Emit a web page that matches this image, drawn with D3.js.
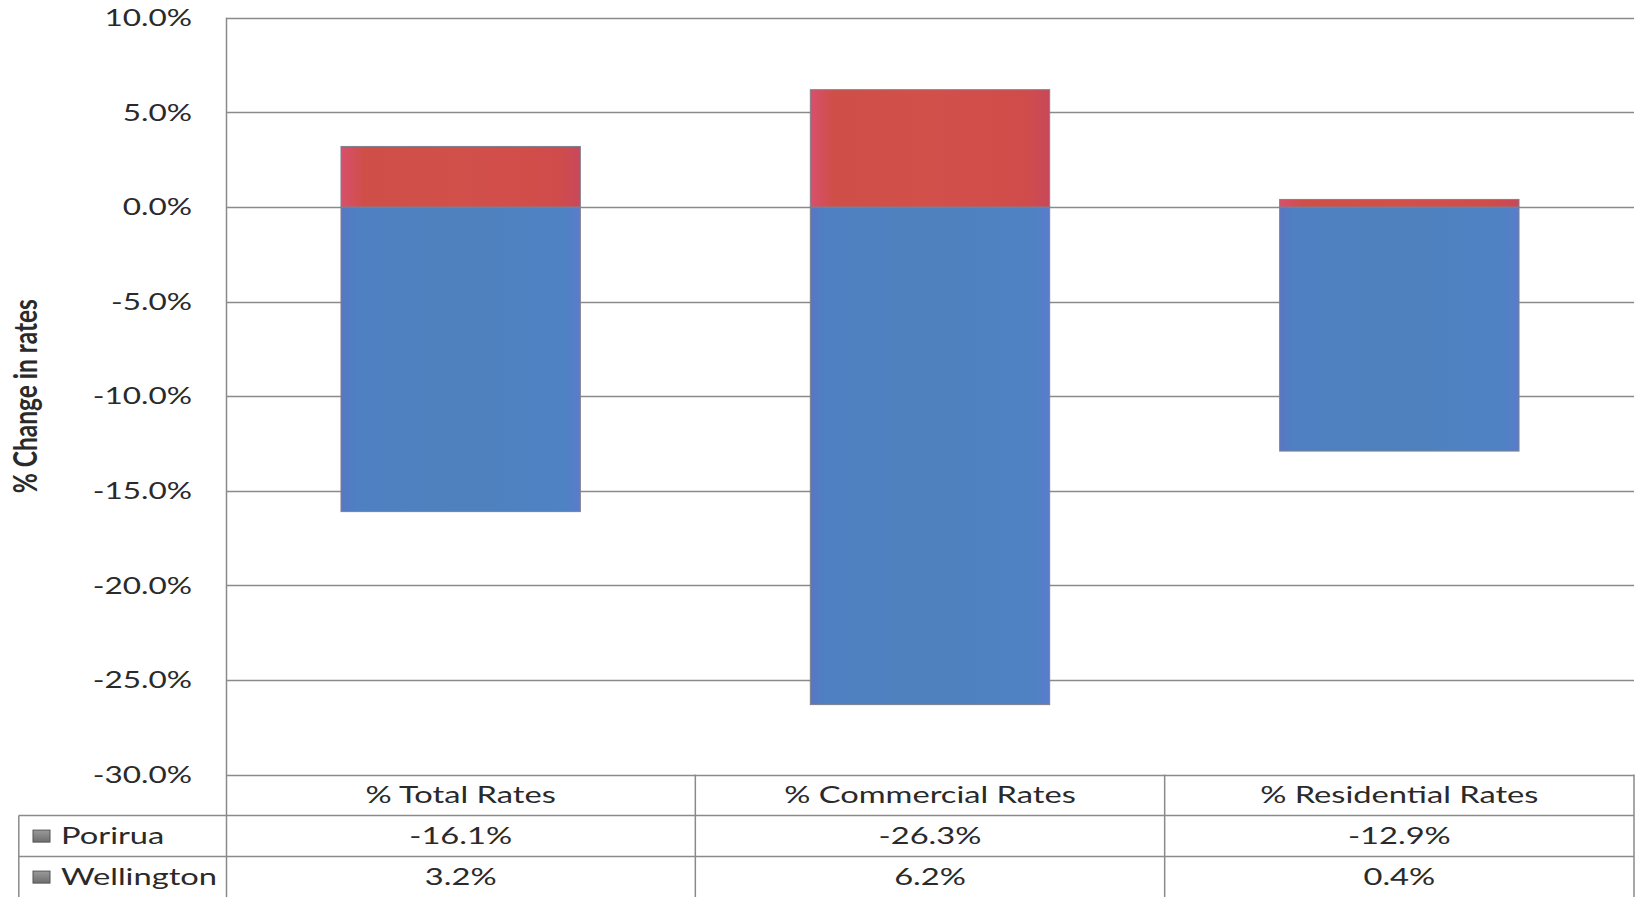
<!DOCTYPE html>
<html>
<head>
<meta charset="utf-8">
<script src="https://cdn.jsdelivr.net/npm/d3@7"></script>
<style>
  html, body { margin: 0; padding: 0; background: #fff; }
  svg { display: block; }
  text { font-family: Lato, "Open Sans", sans-serif; fill: #2a2a2a; }
</style>
</head>
<body>
<svg id="chart" width="1639" height="897"></svg>
<script>
// Rate changes by category
const categories = ["% Total Rates", "% Commercial Rates", "% Residential Rates"];
const seriesNames = ["Porirua", "Wellington"];
const porirua = [-16.1, -26.3, -12.9];
const wellington = [3.2, 6.2, 0.4];
const yTicks = [10, 5, 0, -5, -10, -15, -20, -25, -30];
const yTickLabels = ["10.0%", "5.0%", "0.0%", "-5.0%", "-10.0%", "-15.0%", "-20.0%", "-25.0%", "-30.0%"];
const porLabels = ["-16.1%", "-26.3%", "-12.9%"];
const welLabels = ["3.2%", "6.2%", "0.4%"];
const yTitle = "% Change in rates";

const W = 1639, H = 897;
const plot = { left: 226, right: 1634, top: 17.8, bottom: 774.6 };
const legendLeft = 18.8;
const rowH = 41;
const tickStretch = 1.37;   // wide text rendering
const tableStretch = 1.42;
const gridColor = "#8a8a8a";

const svg = d3.select("#chart");

const rows = categories.map((c, i) => ({ cat: c, Porirua: porirua[i], Wellington: wellington[i] }));
const stacked = d3.stack().keys(seriesNames).offset(d3.stackOffsetDiverging)(rows);

const x = d3.scaleBand().domain(categories)
  .range([plot.left, plot.right]).paddingInner(0.49).paddingOuter(0.245);
const y = d3.scaleLinear().domain([-30, 10]).range([plot.bottom, plot.top]);

// gradients for bar fills
const defs = svg.append("defs");
function hGrad(id, stops) {
  const g = defs.append("linearGradient").attr("id", id).attr("x1", "0").attr("x2", "1").attr("y1", "0").attr("y2", "0");
  stops.forEach(([o, c]) => g.append("stop").attr("offset", o).attr("stop-color", c));
}
hGrad("gPor", [["0", "#5876c4"], ["0.06", "#4f80c2"], ["0.5", "#4e81bd"], ["0.93", "#4e82c3"], ["1", "#5a7ccc"]]);
hGrad("gWel", [["0", "#d8506c"], ["0.1", "#cf4e47"], ["0.5", "#d2504a"], ["0.9", "#d04c4a"], ["1", "#c8485a"]]);
const fills = { Porirua: "url(#gPor)", Wellington: "url(#gWel)" };

// gridlines
svg.append("g").selectAll("line").data(yTicks).join("line")
  .attr("x1", plot.left).attr("x2", plot.right)
  .attr("y1", d => Math.round(y(d)) + 0.5).attr("y2", d => Math.round(y(d)) + 0.5)
  .attr("stroke", gridColor).attr("stroke-width", 1.5);

// bars
svg.append("g").selectAll("g").data(stacked).join("g")
  .attr("fill", d => fills[d.key])
  .selectAll("rect").data(d => d).join("rect")
  .attr("x", d => x(d.data.cat))
  .attr("width", x.bandwidth())
  .attr("y", d => y(Math.max(d[0], d[1])))
  .attr("height", d => Math.abs(y(d[0]) - y(d[1])))
  .attr("stroke", "#80808c").attr("stroke-width", 1);

// left axis line continuing into the table
svg.append("line")
  .attr("x1", plot.left + 0.5).attr("x2", plot.left + 0.5)
  .attr("y1", plot.top).attr("y2", H)
  .attr("stroke", gridColor).attr("stroke-width", 1.5);

// y tick labels
svg.append("g").selectAll("text").data(yTicks).join("text")
  .attr("transform", d => `translate(192,${y(d)}) scale(${tickStretch},1)`)
  .attr("text-anchor", "end").attr("dy", "0.36em")
  .attr("font-size", 23)
  .text((d, i) => yTickLabels[i]);

// y axis title
svg.append("text")
  .attr("transform", `translate(37,${(plot.top + plot.bottom) / 2}) scale(1.3,1) rotate(-90)`)
  .attr("text-anchor", "middle")
  .attr("font-size", 24.5).attr("font-weight", "bold")
  .text(yTitle);

// data table
const step = x.step();
const bounds = categories.map(c => x(c) + x.bandwidth() / 2 - step / 2).concat([plot.right]);
const row1 = plot.bottom + rowH, row2 = row1 + rowH;
const tbl = svg.append("g").attr("stroke", gridColor).attr("stroke-width", 1.5);
[row1, row2].forEach(yy => tbl.append("line")
  .attr("x1", legendLeft).attr("x2", plot.right).attr("y1", yy).attr("y2", yy));
bounds.slice(1).forEach(bx => tbl.append("line")
  .attr("x1", bx).attr("x2", bx).attr("y1", plot.bottom).attr("y2", H));
tbl.append("line").attr("x1", legendLeft).attr("x2", legendLeft).attr("y1", row1).attr("y2", H);

const cellText = (cx, cy, t) => svg.append("text")
  .attr("transform", `translate(${cx},${cy}) scale(${tableStretch},1)`)
  .attr("text-anchor", "middle").attr("dy", "0.36em").attr("font-size", 23).text(t);

categories.forEach((c, i) => {
  const cx = x(c) + x.bandwidth() / 2;
  cellText(cx, (plot.bottom + row1) / 2, c);
  cellText(cx, (row1 + row2) / 2, porLabels[i]);
  cellText(cx, (row2 + row2 + rowH) / 2, welLabels[i]);
});

// legend keys in the table
const keyGrad = defs.append("linearGradient").attr("id", "gKey").attr("x1", "0").attr("x2", "0").attr("y1", "0").attr("y2", "1");
keyGrad.append("stop").attr("offset", "0").attr("stop-color", "#9a9a9a");
keyGrad.append("stop").attr("offset", "1").attr("stop-color", "#6e6e6e");
seriesNames.forEach((s, i) => {
  const cy = row1 + rowH * i + rowH / 2;
  svg.append("rect").attr("x", 33).attr("y", cy - 6).attr("width", 17).attr("height", 12)
    .attr("fill", "url(#gKey)").attr("stroke", "#555").attr("stroke-width", 1);
  svg.append("text")
    .attr("transform", `translate(61,${cy}) scale(${tableStretch},1)`)
    .attr("dy", "0.36em").attr("font-size", 23).text(s);
});
</script>
</body>
</html>
